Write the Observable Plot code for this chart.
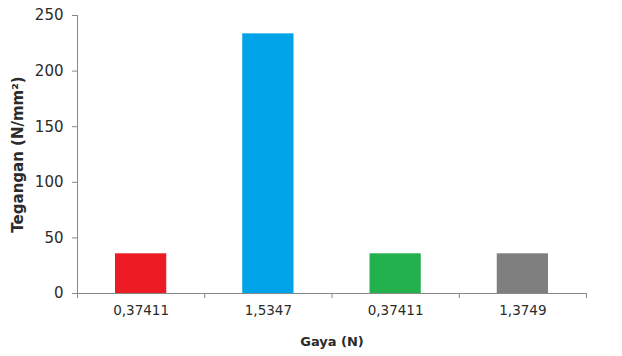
<!DOCTYPE html>
<html>
<head>
<meta charset="utf-8">
<script src="https://cdn.jsdelivr.net/npm/d3@7"></script>
<script src="https://cdn.jsdelivr.net/npm/@observablehq/plot@0.6"></script>
<style>
  html, body { margin: 0; padding: 0; background: #fff; }
  #chart svg { display: block; }
</style>
</head>
<body>
<div id="chart"></div>
<script>
const labels = ["0,37411", "1,5347", "0,37411", "1,3749"];
const values = [35.7, 233.5, 35.7, 35.7];
const colors = ["#ED1C24", "#00A2E8", "#22B14C", "#7F7F7F"];
const yTicks = [0, 50, 100, 150, 200, 250];
const xTitle = "Gaya (N)";
const yTitle = "Tegangan (N/mm²)";

const data = labels.map((label, i) => ({i, label, value: values[i], color: colors[i]}));
const bounds = d3.range(labels.length + 1);

const chart = Plot.plot({
  width: 622,
  height: 356,
  marginLeft: 77,
  marginRight: 36,
  marginTop: 15,
  marginBottom: 63,
  style: {fontFamily: "'DejaVu Sans', sans-serif", fontSize: "13px", color: "#333", background: "#fff"},
  x: {type: "linear", domain: [0, labels.length], axis: null},
  y: {domain: [0, 250], axis: null},
  color: {type: "identity"},
  marks: [
    Plot.rectY(data, {x1: d => d.i, x2: d => d.i + 1, y1: 0, y2: "value", fill: "color", insetLeft: 38, insetRight: 38}),
    Plot.ruleY([0], {stroke: "#888", strokeWidth: 1}),
    Plot.ruleX([0], {stroke: "#888", strokeWidth: 1}),
    Plot.axisY({ticks: yTicks, tickSize: 5, tickPadding: 9, stroke: "#888", fill: "#2b2b2b", fontSize: 15, label: null}),
    Plot.axisX({ticks: bounds, tickSize: 5, tickFormat: () => "", stroke: "#888", label: null}),
    Plot.text(data, {x: d => d.i + 0.5, y: 0, text: "label", dy: 17, fill: "#2b2b2b", fontSize: 13.5}),
    Plot.text([xTitle], {frameAnchor: "bottom", dy: 52, fontWeight: "bold", fontSize: 13, fill: "#2b2b2b"}),
    Plot.text([yTitle], {frameAnchor: "left", textAnchor: "middle", dx: -59, rotate: -90, fontWeight: "bold", fontSize: 15, fill: "#2b2b2b"})
  ]
});
document.getElementById("chart").appendChild(chart);
</script>
</body>
</html>
